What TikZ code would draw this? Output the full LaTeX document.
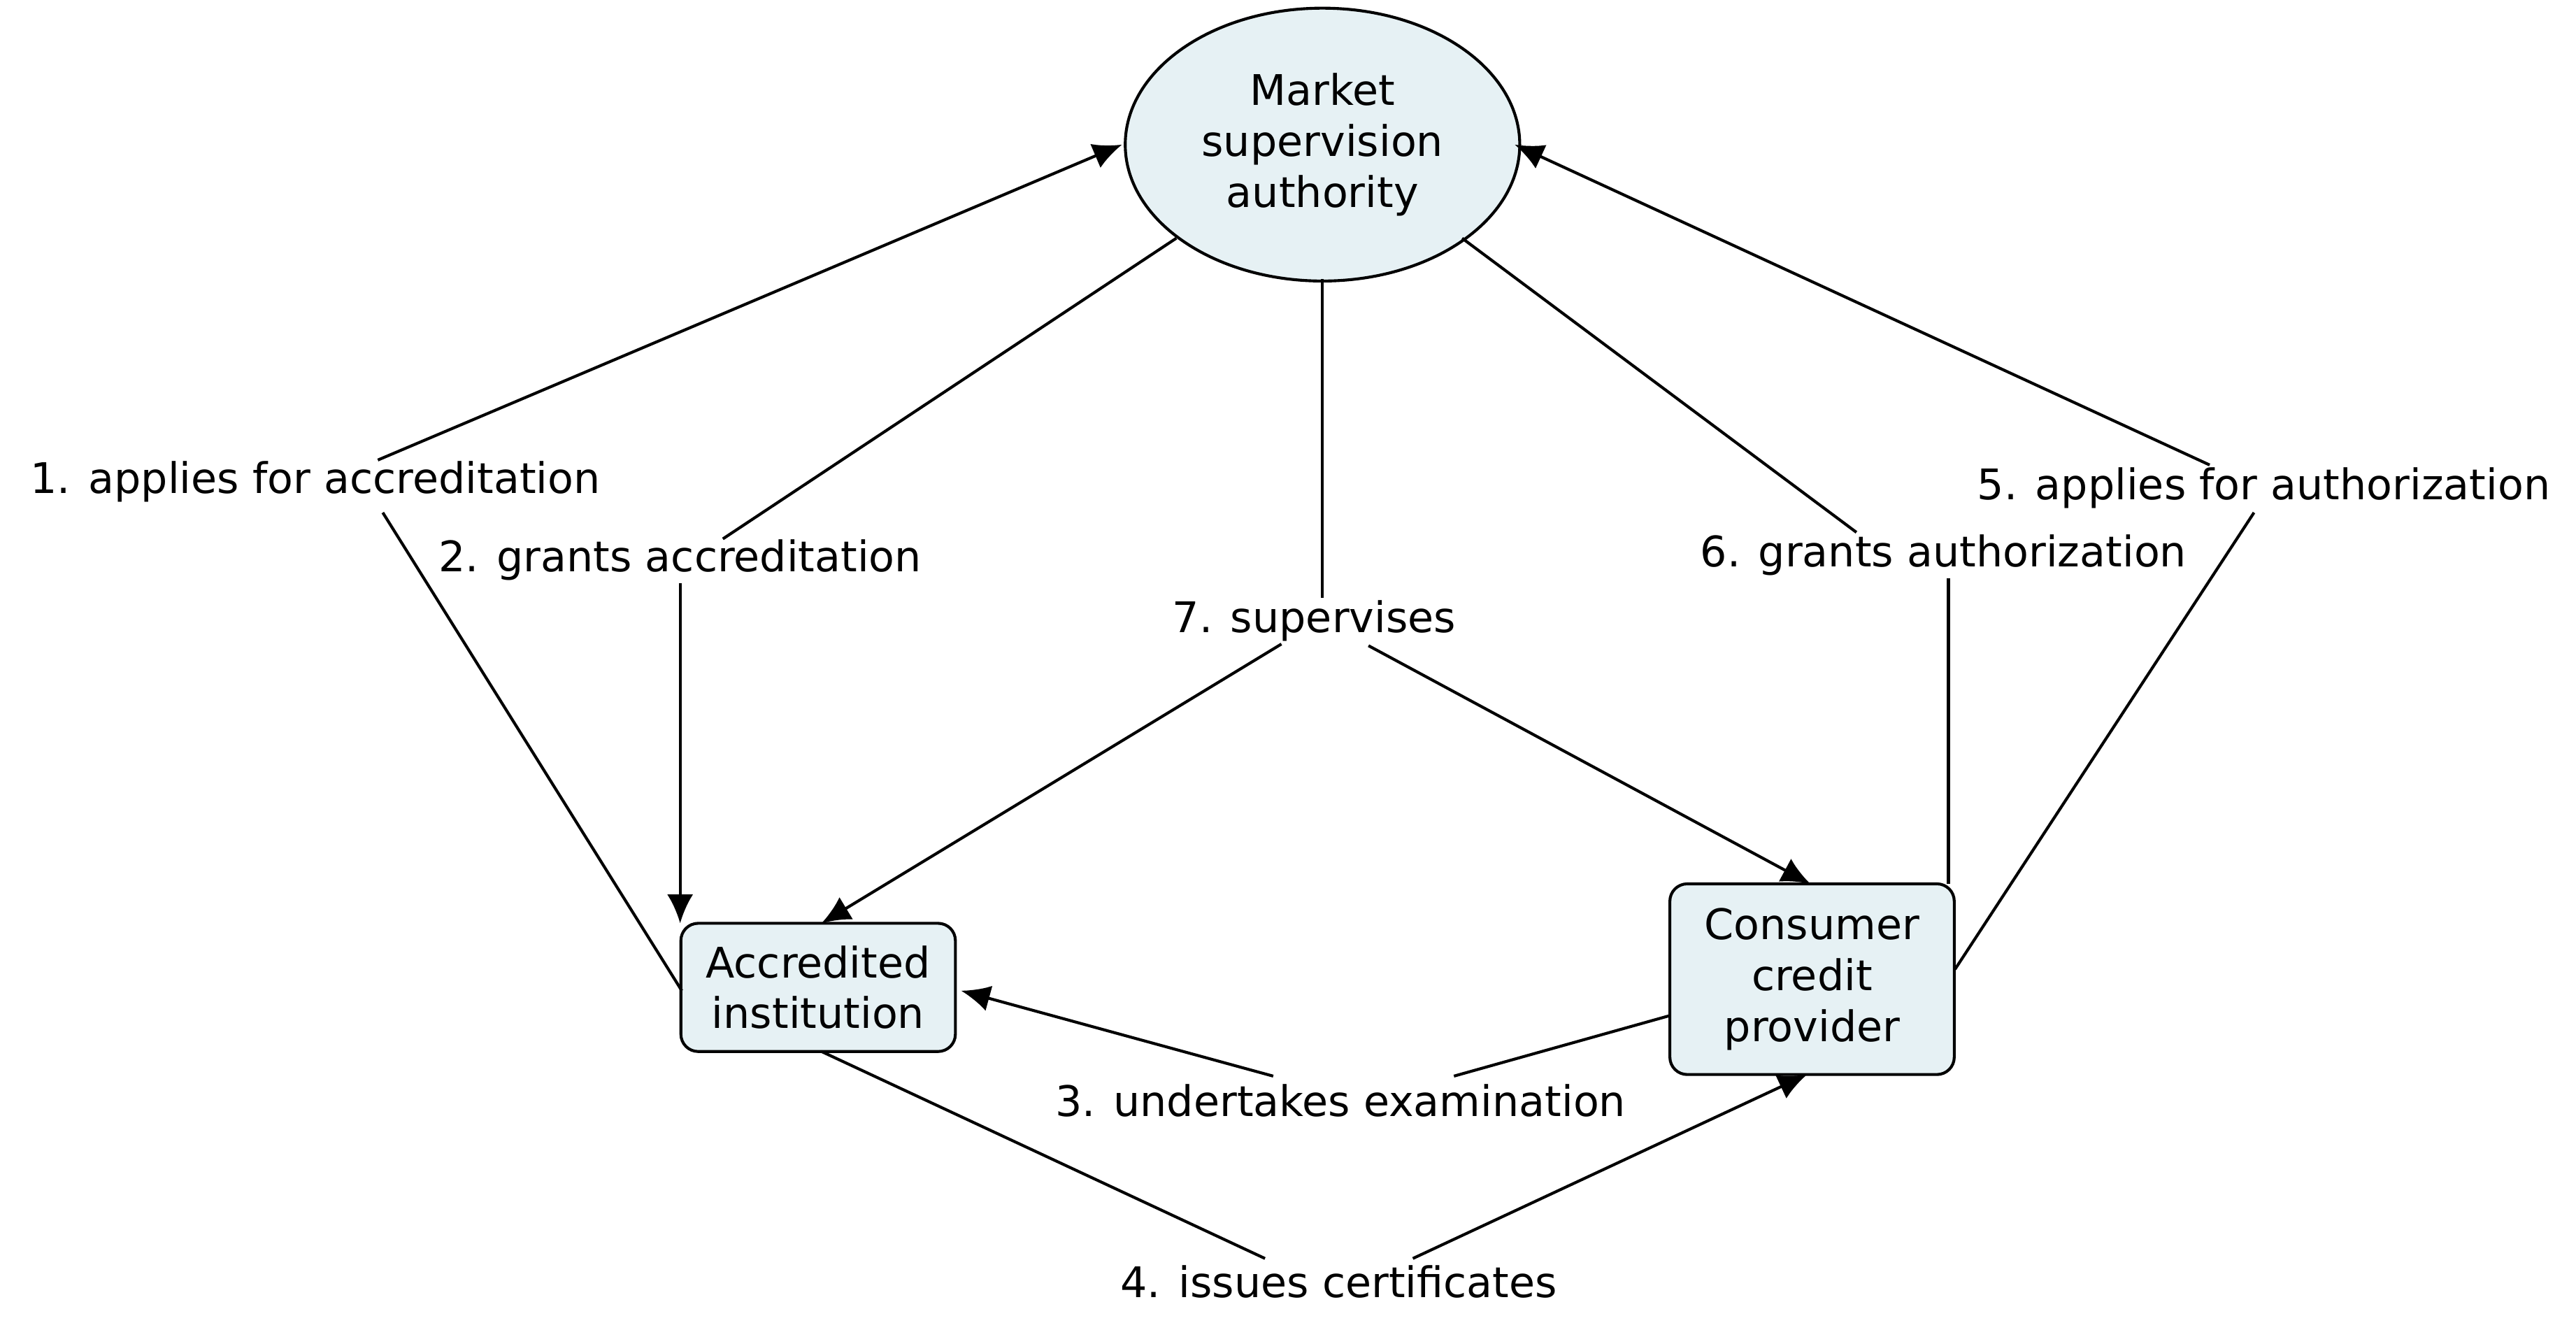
\documentclass[tikz,border=0pt]{standalone}
\usepackage{fontspec}
\setmainfont{DejaVu Sans}
\usetikzlibrary{shapes.geometric,arrows.meta}
\definecolor{nodefill}{HTML}{E6F1F4}
\begin{document}
\begin{tikzpicture}[x=0.01cm,y=-0.01cm,
  every node/.style={font=\fontsize{7.3}{8.8}\selectfont},
  box/.style={draw,fill=nodefill,rounded corners=3pt,align=center,inner sep=0pt},
  lbl/.style={inner sep=1pt},
  arr/.style={-{Latex[length=5pt,width=4.5pt]}},
  line width=0.5pt]
\useasboundingbox (0,0) rectangle (1568,805);
\node[ellipse,draw,fill=nodefill,minimum width=2.4cm,minimum height=1.66cm,align=center,inner sep=0pt] (msa) at (805,88) {Market\\supervision\\authority};
\node[box,minimum width=1.67cm,minimum height=0.78cm] (ai) at (498,601) {Accredited\\institution};
\node[box,minimum width=1.73cm,minimum height=1.16cm] (ccp) at (1103,596) {Consumer\\credit\\provider};
\node[lbl] (l1) at (192,293) {1. applies for accreditation};
\node[lbl] (l2) at (414,341) {2. grants accreditation};
\node[lbl] (l7) at (800,378) {7. supervises};
\node[lbl] (l6) at (1183,338) {6. grants authorization};
\node[lbl] (l5) at (1378,297) {5. applies for authorization};
\node[lbl] (l3) at (816,670) {3. undertakes examination};
\node[lbl] (l4) at (815,780) {4. issues certificates};
% 1
\coordinate (a1) at (415,603); \coordinate (b1) at (233,312); \coordinate (c1) at (230,280); \coordinate (d1) at (683,88);
\draw (a1) -- (b1); \draw[arr] (c1) -- (d1);
% 2
\coordinate (a2) at (716,145); \coordinate (b2) at (440,328); \coordinate (c2) at (414,355); \coordinate (d2) at (414,562);
\draw (a2) -- (b2); \draw[arr] (c2) -- (d2);
% 7
\coordinate (a7) at (805,170); \coordinate (b7) at (805,364); \coordinate (c7) at (780,392); \coordinate (d7) at (500,562);
\coordinate (e7) at (833,393); \coordinate (f7) at (1102,538);
\draw (a7) -- (b7); \draw[arr] (c7) -- (d7); \draw[arr] (e7) -- (f7);
% 6
\coordinate (a6) at (890,145); \coordinate (b6) at (1130,324); \coordinate (c6) at (1186,352); \coordinate (d6) at (1186,538);
\draw (a6) -- (b6); \draw (c6) -- (d6);
% 5
\coordinate (a5) at (1190,590); \coordinate (b5) at (1372,312); \coordinate (c5) at (1345,283); \coordinate (d5) at (922,88);
\draw (a5) -- (b5); \draw[arr] (c5) -- (d5);
% 3
\coordinate (a3) at (1017,618); \coordinate (b3) at (885,655); \coordinate (c3) at (775,655); \coordinate (d3) at (585,603);
\draw (a3) -- (b3); \draw[arr] (c3) -- (d3);
% 4
\coordinate (a4) at (500,640); \coordinate (b4) at (770,766); \coordinate (c4) at (860,766); \coordinate (d4) at (1100,654);
\draw (a4) -- (b4); \draw[arr] (c4) -- (d4);
\end{tikzpicture}
\end{document}
